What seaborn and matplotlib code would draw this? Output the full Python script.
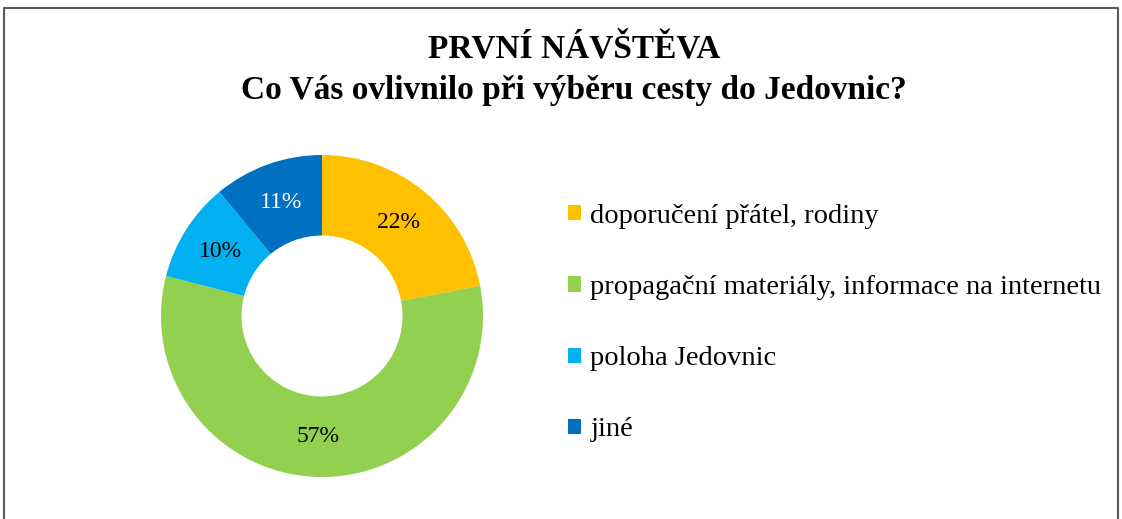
import matplotlib
matplotlib.use("Agg")
import matplotlib.pyplot as plt
from matplotlib.patches import Patch
from matplotlib.lines import Line2D
import seaborn as sns

# data
categories = [
    "doporučení přátel, rodiny",
    "propagační materiály, informace na internetu",
    "poloha Jedovnic",
    "jiné",
]
values = [22, 57, 10, 11]
title_lines = ["PRVNÍ NÁVŠTĚVA", "Co Vás ovlivnilo při výběru cesty do Jedovnic?"]

sns.set_theme(style="white")
plt.rcParams["font.family"] = ["Liberation Serif", "DejaVu Serif"]
plt.rcParams["text.color"] = "black"

colors = sns.color_palette(["#FFC000", "#92D050", "#00B0F0", "#0070C0"])
label_colors = ["black", "black", "black", "white"]

W, H = 1122, 519
fig = plt.figure(figsize=(W / 100, H / 100), dpi=100)

# outer frame (bottom edge cut off in reference)
fx = [4 / W, 4 / W, 1118 / W, 1118 / W]
fy = [0, 1 - 8 / H, 1 - 8 / H, 0]
fig.add_artist(Line2D(fx, fy, color="#595959", lw=1.5, transform=fig.transFigure))

fig.text(574 / W, 1 - 49 / H, title_lines[0], ha="center", va="center",
         fontsize=24, fontweight="bold", color="black")
fig.text(574 / W, 1 - 90 / H, title_lines[1], ha="center", va="center",
         fontsize=24, fontweight="bold", color="black")

# donut axes: center (322, 316), radius 161 px
cx, cy, r = 322, 316, 161
ax = fig.add_axes([(cx - r) / W, (H - cy - r) / H, 2 * r / W, 2 * r / H])
wedges, texts, autotexts = ax.pie(
    values,
    colors=colors,
    startangle=90,
    counterclock=False,
    autopct="%d%%",
    pctdistance=0.75,
    wedgeprops=dict(width=0.5, edgecolor="none"),
    textprops=dict(fontsize=17),
)
for t, c in zip(autotexts, label_colors):
    t.set_color(c)
ax.set_xlim(-1, 1)
ax.set_ylim(-1, 1)

handles = [Patch(facecolor=c, edgecolor="none") for c in colors]
leg = fig.legend(
    handles,
    categories,
    loc="upper left",
    bbox_to_anchor=(568 / W, 1 - 204 / H),
    frameon=False,
    fontsize=20.5,
    handlelength=0.44,
    handleheight=0.44,
    handletextpad=0.35,
    labelspacing=1.62,
    borderaxespad=0,
    borderpad=0,
)
for t in leg.get_texts():
    t.set_color("black")

fig.savefig("out.png", dpi=100, facecolor="white")
